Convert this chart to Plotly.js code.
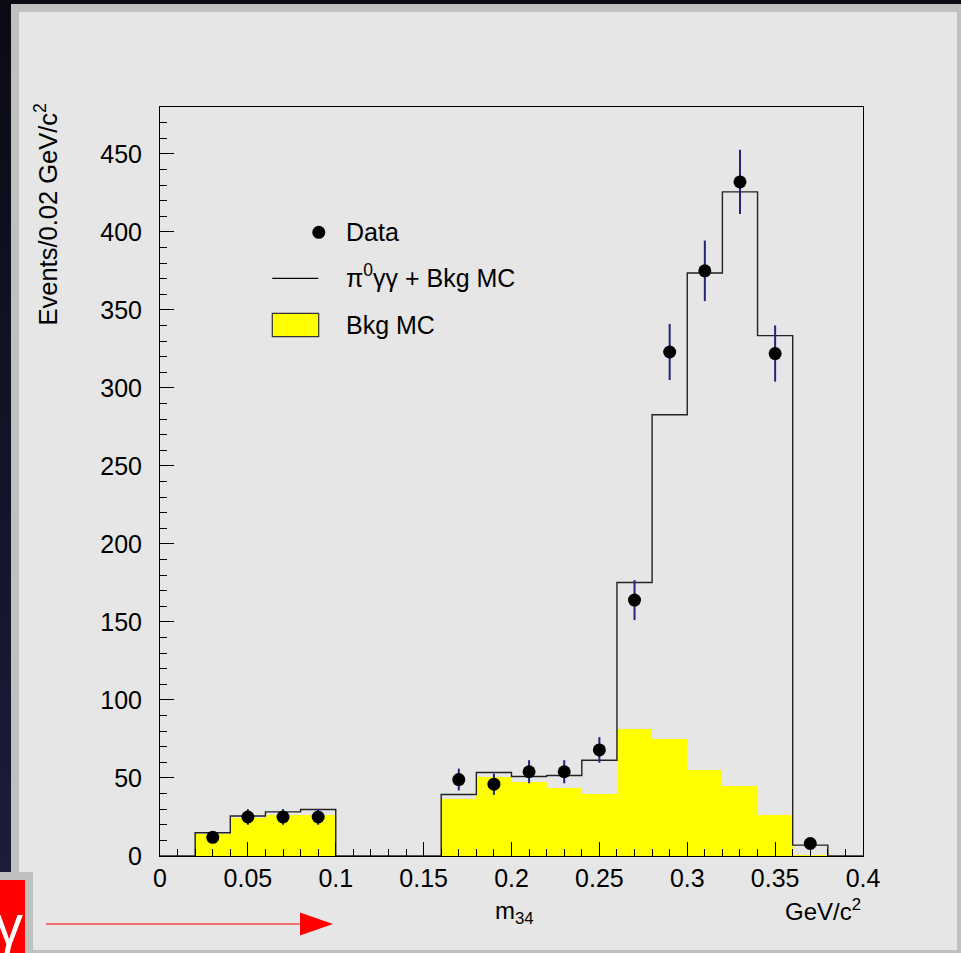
<!DOCTYPE html>
<html>
<head>
<meta charset="utf-8">
<script src="https://cdn.plot.ly/plotly-3.0.1.min.js"></script>
<style>
  html, body { margin: 0; padding: 0; }
  body { width: 961px; height: 953px; overflow: hidden;
         background: linear-gradient(to bottom, #0a0b15 0%, #15162c 60%, #1e1e3e 100%); }
  #chart { width: 961px; height: 953px; }
</style>
</head>
<body>
<div id="chart"></div>
<script>
// ---- data ----
const binEdges = [0.00, 0.02, 0.04, 0.06, 0.08, 0.10, 0.12, 0.14, 0.16, 0.18, 0.20,
                  0.22, 0.24, 0.26, 0.28, 0.30, 0.32, 0.34, 0.36, 0.38, 0.40];
const bkgMC   = [0, 14.3, 24.1, 26.2, 26.2, 0, 0, 0, 36.6, 50.7, 47.5, 43.9, 40.0,
                 81.4, 75.0, 55.2, 44.7, 26.0, 0.8, 0];
const totalMC = [0, 14.9, 25.6, 28.3, 29.8, 0, 0, 0, 39.4, 53.5, 50.9, 51.6, 61.4,
                 175.3, 282.8, 373.6, 425.6, 333.5, 7.0, 0];
const dataX   = [0.03, 0.05, 0.07, 0.09, 0.17, 0.19, 0.21, 0.23, 0.25, 0.27, 0.29, 0.31, 0.33, 0.35, 0.37];
const dataY   = [12, 25, 25, 25, 49, 46, 54, 54, 68, 164, 323, 375, 432, 322, 8];
const dataErr = [3.5, 5, 5, 5, 7, 6.8, 7.4, 7.4, 8.2, 12.8, 18, 19.4, 20.6, 18, 2.8];

const xTickVals = [0, 0.05, 0.1, 0.15, 0.2, 0.25, 0.3, 0.35, 0.4];
const xTickText = ["0", "0.05", "0.1", "0.15", "0.2", "0.25", "0.3", "0.35", "0.4"];
const yTickVals = [0, 50, 100, 150, 200, 250, 300, 350, 400, 450];
const yTickText = ["0", "50", "100", "150", "200", "250", "300", "350", "400", "450"];

const legendLabels = ["Data", "π<sup>0</sup>γγ + Bkg MC", "Bkg MC"];
const yTitle = "Events/0.02 GeV/c<sup>2</sup>";
const xTitleUnit = "GeV/c<sup>2</sup>";
const xTitleVar = "m<sub>34</sub>";

// ---- derived ----
const binCenters = binEdges.slice(0, -1).map((e, i) => (e + binEdges[i + 1]) / 2);
const binWidths  = binEdges.slice(0, -1).map((e, i) => binEdges[i + 1] - e);
const stepY = totalMC.concat([totalMC[totalMC.length - 1]]);

// ---- geometry helpers (pixel -> paper) ----
const W = 961, H = 953, ML = 160, MR = 98, MT = 107, MB = 97;
const PW = W - ML - MR, PH = H - MT - MB;
const fx = p => (p - ML) / PW;
const fy = p => (H - MB - p) / PH;

const FONT = "Liberation Sans, Arial, Helvetica, sans-serif";

const traces = [
  {
    type: "bar", x: binCenters, y: bkgMC, width: binWidths,
    marker: { color: "#ffff00", line: { width: 0 } },
    hoverinfo: "skip", showlegend: false
  },
  {
    type: "scatter", mode: "lines", x: binEdges, y: stepY,
    line: { shape: "hv", color: "#222222", width: 1.4 },
    hoverinfo: "skip", showlegend: false
  },
  {
    type: "scatter", mode: "markers", x: dataX, y: dataY,
    marker: { color: "#000000", size: 13, symbol: "circle" },
    error_y: { type: "data", array: dataErr, visible: true, color: "#24247a", thickness: 2, width: 0 },
    hoverinfo: "skip", showlegend: false, cliponaxis: false
  }
];

const shapes = [
  // panel
  { type: "rect", xref: "paper", yref: "paper", layer: "below",
    x0: fx(11), x1: fx(961), y0: fy(953), y1: fy(4), fillcolor: "#c0c0c0", line: { width: 0 } },
  { type: "rect", xref: "paper", yref: "paper", layer: "below",
    x0: fx(19), x1: fx(957), y0: fy(950), y1: fy(12), fillcolor: "#e6e6e6", line: { width: 0 } },
  // red tab bottom-left
  { type: "rect", xref: "paper", yref: "paper", layer: "below",
    x0: fx(0), x1: fx(33), y0: fy(953), y1: fy(872), fillcolor: "#c0c0c0", line: { width: 0 } },
  { type: "rect", xref: "paper", yref: "paper", layer: "below",
    x0: fx(0), x1: fx(25), y0: fy(953), y1: fy(880), fillcolor: "#ff0000", line: { width: 0 } },
  // red arrow
  { type: "line", xref: "paper", yref: "paper",
    x0: fx(46), x1: fx(302), y0: fy(924), y1: fy(924), line: { color: "#f07070", width: 2 } },
  { type: "path", xref: "paper", yref: "paper",
    path: `M ${fx(300)},${fy(912.5)} L ${fx(333)},${fy(924)} L ${fx(300)},${fy(935.5)} Z`,
    fillcolor: "#ff0000", line: { width: 0 } },
  // legend swatches
  { type: "circle", xref: "paper", yref: "paper",
    x0: fx(312.3), x1: fx(325.3), y0: fy(238.8), y1: fy(225.8), fillcolor: "#000000", line: { width: 0 } },
  { type: "line", xref: "paper", yref: "paper",
    x0: fx(272.3), x1: fx(318.3), y0: fy(278.3), y1: fy(278.3), line: { color: "#000000", width: 1.2 } },
  { type: "rect", xref: "paper", yref: "paper",
    x0: fx(272.3), x1: fx(318.7), y0: fy(336.7), y1: fy(313.3), fillcolor: "#ffff00", line: { color: "#333333", width: 1.2 } }
];

const annotations = [
  // legend texts
  { xref: "paper", yref: "paper", x: fx(344), y: fy(232.3), xanchor: "left", yanchor: "middle",
    text: legendLabels[0], showarrow: false, font: { family: FONT, size: 25, color: "#000" } },
  { xref: "paper", yref: "paper", x: fx(344), y: fy(276), xanchor: "left", yanchor: "middle",
    text: legendLabels[1], showarrow: false, font: { family: FONT, size: 25, color: "#000" } },
  { xref: "paper", yref: "paper", x: fx(344), y: fy(325), xanchor: "left", yanchor: "middle",
    text: legendLabels[2], showarrow: false, font: { family: FONT, size: 25, color: "#000" } },
  // axis titles
  { xref: "paper", yref: "paper", x: fx(47), y: fy(101), xanchor: "center", yanchor: "top",
    textangle: -90, text: yTitle, showarrow: false, font: { family: FONT, size: 25.5, color: "#000" } },
  { xref: "paper", yref: "paper", x: fx(863), y: fy(893), xanchor: "right", yanchor: "top",
    text: xTitleUnit, showarrow: false, font: { family: FONT, size: 24, color: "#000" } },
  { xref: "paper", yref: "paper", x: fx(493), y: fy(895), xanchor: "left", yanchor: "top",
    text: xTitleVar, showarrow: false, font: { family: FONT, size: 24, color: "#000" } },
  // white gamma in the red tab
  { xref: "paper", yref: "paper", x: fx(25), y: fy(958), xanchor: "right", yanchor: "bottom",
    text: "γ", showarrow: false, font: { family: FONT, size: 56, color: "#ffffff" } }
];

const layout = {
  width: W, height: H,
  margin: { l: ML, r: MR, t: MT, b: MB, pad: 0 },
  paper_bgcolor: "rgba(0,0,0,0)",
  plot_bgcolor: "#e6e6e6",
  bargap: 0,
  showlegend: false,
  font: { family: FONT, size: 25, color: "#000" },
  xaxis: {
    range: [0, 0.4], fixedrange: true,
    tickmode: "array", tickvals: xTickVals, ticktext: xTickText,
    ticks: "inside", ticklen: 14, tickwidth: 1, tickcolor: "#000",
    minor: { dtick: 0.01, tick0: 0, ticks: "inside", ticklen: 7, tickwidth: 1, tickcolor: "#000", showgrid: false },
    showline: true, linecolor: "#000", linewidth: 1, mirror: true,
    showgrid: false, zeroline: false,
    tickfont: { family: FONT, size: 25, color: "#000" },
    ticklabelstandoff: 0
  },
  yaxis: {
    range: [0, 480], fixedrange: true,
    tickmode: "array", tickvals: yTickVals, ticktext: yTickText,
    ticks: "inside", ticklen: 14, tickwidth: 1, tickcolor: "#000",
    minor: { dtick: 10, tick0: 0, ticks: "inside", ticklen: 7, tickwidth: 1, tickcolor: "#000", showgrid: false },
    showline: true, linecolor: "#000", linewidth: 1, mirror: true,
    showgrid: false, zeroline: false,
    tickfont: { family: FONT, size: 25, color: "#000" },
    ticklabelstandoff: 12
  },
  shapes: shapes,
  annotations: annotations
};

Plotly.newPlot("chart", traces, layout, { staticPlot: true, displayModeBar: false });
</script>
</body>
</html>
